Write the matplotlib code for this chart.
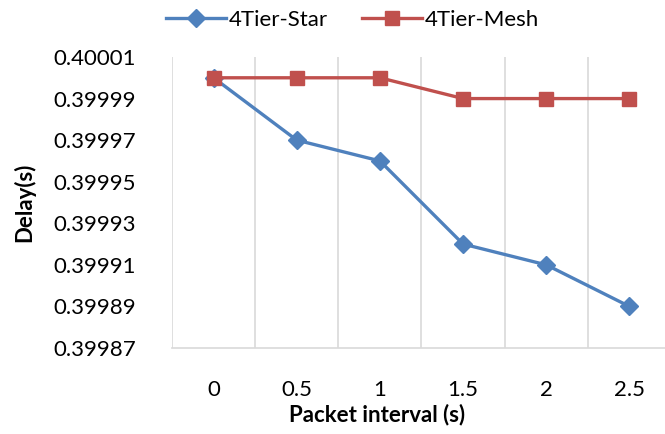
import numpy as np
import matplotlib
matplotlib.use("Agg")
import matplotlib.pyplot as plt

# Datos
intervalos = ["0", "0.5", "1", "1.5", "2", "2.5"]
star = [0.40000, 0.39997, 0.39996, 0.39992, 0.39991, 0.39989]
mesh = [0.40000, 0.40000, 0.40000, 0.39999, 0.39999, 0.39999]
y_ticks = [0.39987, 0.39989, 0.39991, 0.39993, 0.39995, 0.39997, 0.39999, 0.40001]

plt.rcParams['font.family'] = ['Lato', 'DejaVu Sans']

fig = plt.figure(figsize=(6.65, 4.34), dpi=100)
ax = fig.add_axes([172/665, 1 - 348/434, 499/665, 291/434])

x = np.arange(len(intervalos))
ax.plot(x, star, color='#4F81BD', lw=2.4, marker='D', ms=9, label='4Tier-Star')
ax.plot(x, mesh, color='#C0504D', lw=2.4, marker='s', ms=10, label='4Tier-Mesh')

ax.set_xlim(-0.5, len(intervalos) - 0.5)
ax.set_ylim(0.39987, 0.40001)
ax.set_xticks(x)
ax.set_xticklabels(intervalos)
ax.set_xticks(np.arange(-0.5, len(intervalos), 1.0), minor=True)
ax.set_yticks(y_ticks)
ax.set_yticklabels(["%.5f" % v for v in y_ticks])

ax.grid(which='minor', axis='x', color='#D9D9D9', lw=1.2)
ax.tick_params(which='both', length=0)
ax.tick_params(axis='x', pad=23, labelsize=16)
ax.tick_params(axis='y', pad=26, labelsize=16)
for s in ['left', 'top', 'right']:
    ax.spines[s].set_visible(False)
ax.spines['bottom'].set_color('#D9D9D9')
ax.spines['bottom'].set_linewidth(1.2)

ax.set_xlabel('Packet interval (s)', fontsize=16, fontweight='bold')
ax.set_ylabel('Delay(s)', fontsize=16, fontweight='bold')
ax.yaxis.set_label_coords(-0.275, 0.5)
ax.xaxis.set_label_coords(0.41, -0.19)

fig.legend(loc='center', bbox_to_anchor=(0.53, 0.955), ncol=2, frameon=False,
           fontsize=16, handlelength=2.7, handletextpad=0.15, columnspacing=1.5)

fig.savefig('out.png', dpi=100)
